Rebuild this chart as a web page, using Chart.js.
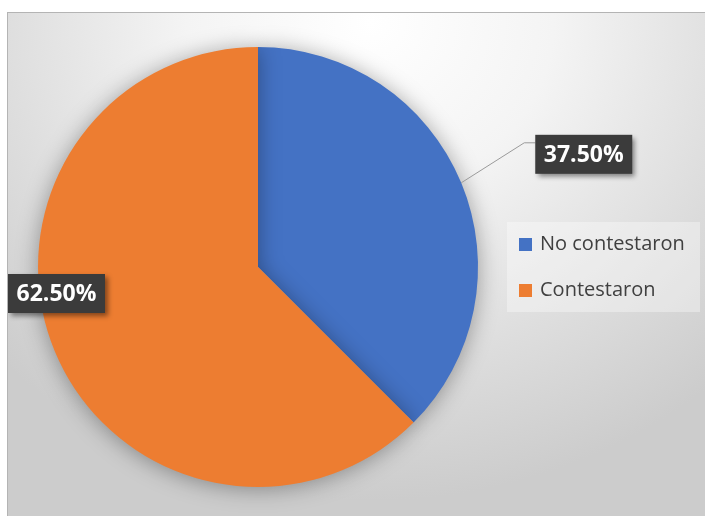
<!DOCTYPE html>
<html>
<head>
<meta charset="utf-8">
<script src="https://cdn.jsdelivr.net/npm/chart.js@4"></script>
<style>
  html, body { margin: 0; padding: 0; background: #fff; }
  #box {
    position: absolute; left: 7px; top: 12px; width: 698px; height: 504px;
    border-top: 1px solid #b4b4b4; border-left: 1px solid #b4b4b4;
    box-sizing: border-box;
    background: radial-gradient(ellipse 75% 95% at 52% 2%, #ffffff 0%, #f4f4f4 35%, #dedede 70%, #cccccc 100%);
  }
  canvas { display: block; }
</style>
</head>
<body>
<div id="box"><canvas id="pieChart" width="697" height="503"></canvas></div>
<script>
/* datos de la grafica */
var categorias = ["No contestaron", "Contestaron"];
var valores = [37.5, 62.5];
var colores = ["#4472C4", "#ED7D31"];

var fuente = "'Open Sans', Lato, sans-serif";

// sombra suave alrededor del pastel
var sombraPlugin = {
  id: 'sombra',
  beforeDatasetsDraw: function (chart) {
    var ctx = chart.ctx;
    ctx.save();
    ctx.shadowColor = 'rgba(0,0,0,0.35)';
    ctx.shadowBlur = 22;
    ctx.shadowOffsetY = 2;
  },
  afterDatasetsDraw: function (chart) {
    chart.ctx.restore();
  }
};

// etiquetas oscuras con porcentaje + leyenda
var etiquetasPlugin = {
  id: 'etiquetas',
  afterDraw: function (chart) {
    var ctx = chart.ctx;
    var arcs = chart.getDatasetMeta(0).data;
    var total = valores.reduce(function (a, b) { return a + b; }, 0);

    arcs.forEach(function (arc, i) {
      var txt = (valores[i] / total * 100).toFixed(2) + '%';
      var mid = (arc.startAngle + arc.endAngle) / 2;
      var bx, by, bw = 97, bh = 39;
      ctx.save();
      if (i === 0) {
        // linea guia desde el borde
        var px = arc.x + Math.cos(mid) * arc.outerRadius;
        var py = arc.y + Math.sin(mid) * arc.outerRadius;
        ctx.strokeStyle = '#9a9a9a';
        ctx.lineWidth = 1;
        ctx.beginPath();
        ctx.moveTo(px, py);
        ctx.lineTo(px + 63, py - 40);
        ctx.lineTo(px + 74, py - 40);
        ctx.stroke();
        bx = px + 74; by = py - 48;
      } else {
        bx = arc.x - arc.outerRadius - 30; by = arc.y + 7;
      }
      ctx.shadowColor = 'rgba(0,0,0,0.45)';
      ctx.shadowBlur = 5;
      ctx.shadowOffsetX = 3;
      ctx.shadowOffsetY = 3;
      ctx.fillStyle = '#3b3b3b';
      ctx.fillRect(bx, by, bw, bh);
      ctx.shadowColor = 'transparent';
      ctx.fillStyle = '#ffffff';
      ctx.font = 'bold 23px ' + fuente;
      ctx.textAlign = 'center';
      ctx.textBaseline = 'middle';
      ctx.fillText(txt, bx + bw / 2, by + bh / 2 + 1);
      ctx.restore();
    });

    // leyenda
    ctx.save();
    ctx.fillStyle = 'rgba(255,255,255,0.35)';
    ctx.fillRect(499, 209, 193, 90);
    ctx.font = '20px ' + fuente;
    ctx.textBaseline = 'middle';
    categorias.forEach(function (c, i) {
      var y = 231.5 + i * 46;
      ctx.fillStyle = colores[i];
      ctx.fillRect(511, y - 6.5, 13, 13);
      ctx.fillStyle = '#404040';
      ctx.fillText(c, 532, y);
    });
    ctx.restore();
  }
};

var ctx1 = document.getElementById("pieChart");
var pieChart = new Chart(ctx1, {
  type: 'pie',
  data: {
    labels: categorias,
    datasets: [{
      data: valores,
      backgroundColor: colores,
      borderWidth: 0
    }]
  },
  options: {
    responsive: false,
    animation: false,
    layout: { padding: { left: 30, top: 34, right: 227, bottom: 29 } },
    plugins: {
      legend: { display: false },
      tooltip: { enabled: false }
    }
  },
  plugins: [sombraPlugin, etiquetasPlugin]
});
</script>
</body>
</html>
